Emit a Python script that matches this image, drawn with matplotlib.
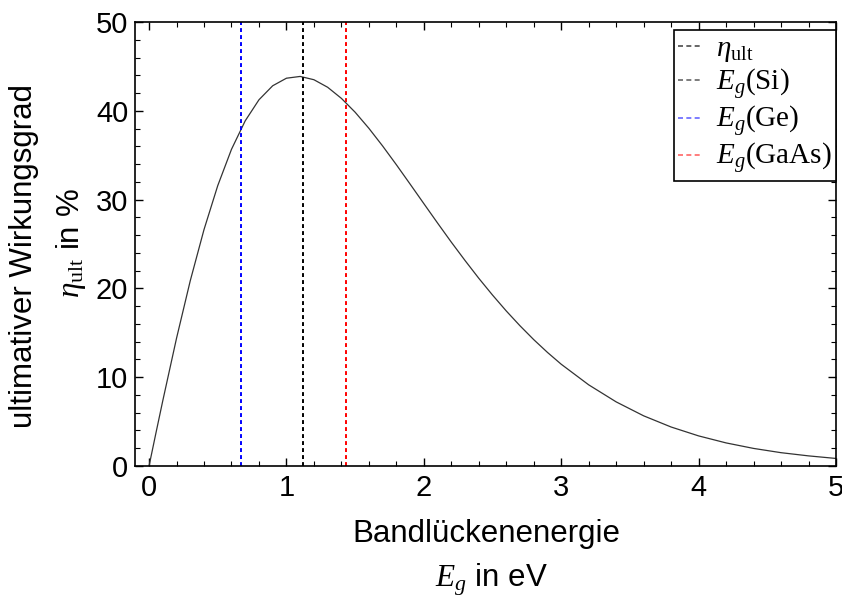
import matplotlib
matplotlib.use("Agg")
import matplotlib.pyplot as plt
from matplotlib.lines import Line2D
from matplotlib.ticker import MultipleLocator

# band gap energy in eV and ultimate efficiency in %
energy = [0.0, 0.05, 0.1, 0.2, 0.3, 0.4, 0.5, 0.6, 0.7, 0.8, 0.9, 1.0,
          1.1, 1.2, 1.3, 1.4, 1.5, 1.6, 1.7, 1.8, 1.9, 2.0,
          2.1, 2.2, 2.3, 2.4, 2.5, 2.6, 2.7, 2.8, 2.9, 3.0,
          3.2, 3.4, 3.6, 3.8, 4.0, 4.2, 4.4, 4.6, 4.8, 5.0]
eta = [0.0, 3.70, 7.35, 14.38, 20.86, 26.62, 31.57, 35.66, 38.87, 41.24, 42.82, 43.67,
       43.87, 43.50, 42.65, 41.40, 39.84, 38.03, 36.04, 33.93, 31.75, 29.55,
       27.36, 25.21, 23.14, 21.14, 19.25, 17.46, 15.79, 14.23, 12.79, 11.46,
       9.14, 7.22, 5.65, 4.39, 3.39, 2.60, 1.98, 1.50, 1.14, 0.85]

# band gaps of the marked semiconductors
gap_names = ["Si", "Ge", "GaAs"]
gap_values = [1.12, 0.67, 1.43]
gap_colors = ["black", "blue", "red"]

plt.rcParams['font.family'] = ['Liberation Sans', 'DejaVu Sans']
plt.rcParams['mathtext.fontset'] = 'custom'
plt.rcParams['mathtext.rm'] = 'Liberation Serif'
plt.rcParams['mathtext.it'] = 'Liberation Serif:italic'

W, H = 842, 597
fig = plt.figure(figsize=(W / 100, H / 100), dpi=100)
ax = fig.add_axes([135.3 / W, 1 - 466 / H, (836 - 135.3) / W, 444 / H])

ax.plot(energy, eta, color='#333333', lw=0.9)
for gap, col in zip(gap_values, gap_colors):
    ax.axvline(gap, color=col, lw=1.4, dashes=(2, 1.6))

ax.set_xlim(-0.1, 5)
ax.set_ylim(0, 50)
ax.xaxis.set_major_locator(MultipleLocator(1))
ax.xaxis.set_minor_locator(MultipleLocator(0.2))
ax.yaxis.set_major_locator(MultipleLocator(10))
ax.yaxis.set_minor_locator(MultipleLocator(2))
ax.tick_params(which='both', direction='in', top=True, right=True, labelsize=21)
ax.tick_params(which='major', length=6, width=1)
ax.tick_params(which='minor', length=3.5, width=0.8)
ax.tick_params(axis='x', pad=6)
ax.tick_params(axis='y', pad=5)
for sp in ax.spines.values():
    sp.set_linewidth(1.2)

# legend (handles are short dashes like in the original)
handles = [Line2D([], [], color='black', alpha=0.7, lw=1.2, dashes=(3, 2))]
labels = [r'$\eta_{\mathrm{ult}}$']
for name, col in zip(gap_names, gap_colors):
    handles.append(Line2D([], [], color=col, alpha=0.6, lw=1.2, dashes=(3, 2)))
    labels.append(r'$E_g\mathrm{(' + name + ')}$')
leg = ax.legend(handles, labels, loc='upper right', bbox_to_anchor=(1.0, (466 - 30) / 444),
                fontsize=21, handlelength=0.8, handletextpad=0.5, labelspacing=0.08,
                borderpad=0.15, borderaxespad=0, fancybox=False, framealpha=1)
leg.get_frame().set_edgecolor('black')
leg.get_frame().set_linewidth(1.2)

# axis labels, two lines each
fig.text(486.5 / W, 1 - 542 / H, 'Bandlückenenergie', ha='center', va='baseline', fontsize=22.5)
fig.text(491 / W, 1 - 587 / H, r'$E_g$ in eV', ha='center', va='baseline', fontsize=22.5)
fig.text(24 / W, 1 - 256 / H, 'ultimativer Wirkungsgrad', rotation=90,
         ha='center', va='center', fontsize=22.5)
fig.text(71 / W, 1 - 243 / H, r'$\eta_{\mathrm{ult}}$ in %', rotation=90,
         ha='center', va='center', fontsize=22.5)

fig.savefig('out.png', dpi=100)
